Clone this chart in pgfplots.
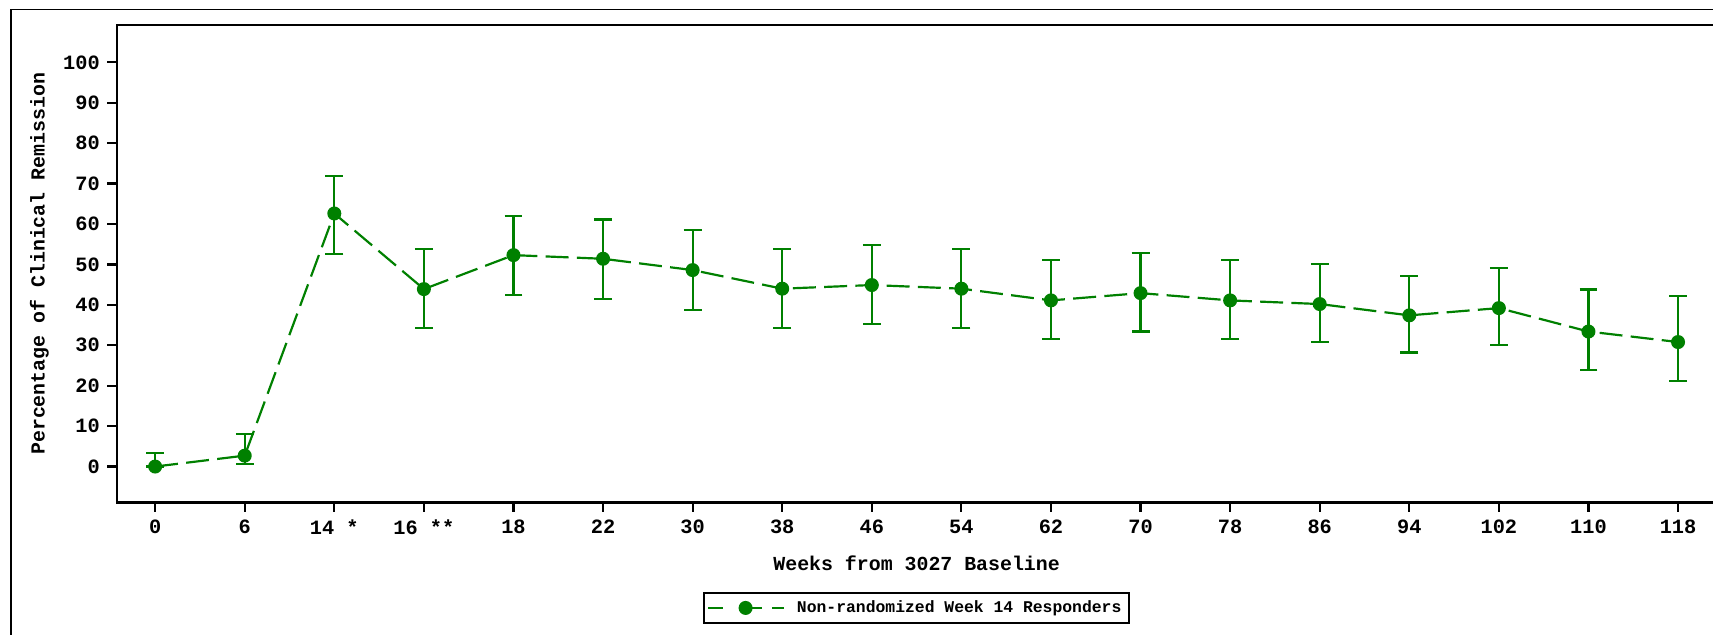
\documentclass[border=0pt]{standalone}
\usepackage{fontspec}
\setmainfont{Liberation Mono}
\usepackage{pgfplots}
\pgfplotsset{compat=1.18}
\usepackage{pgfplotstable}
\definecolor{sasgreen}{RGB}{0,128,0}

% week index, percentage, upper and lower limits
\pgfplotstableread{
idx pct hi lo
0  0.0  3.3  0.0
1  2.7  8.0  0.6
2  62.6 71.8 52.6
3  43.9 53.9 34.3
4  52.3 62.0 42.5
5  51.4 61.1 41.5
6  48.6 58.5 38.7
7  44.0 53.9 34.3
8  44.9 54.8 35.3
9  44.0 53.9 34.3
10 41.1 51.0 31.6
11 42.9 52.9 33.4
12 41.1 51.0 31.6
13 40.2 50.1 30.8
14 37.4 47.2 28.2
15 39.2 49.2 30.0
16 33.4 43.8 23.9
17 30.8 42.1 21.2
}\remission

\begin{document}
\begin{tikzpicture}
\useasboundingbox (0,0) rectangle (784pt,290.5pt);
\clip (0,0) rectangle (784pt,290.5pt);
\draw[line width=0.6pt] (5pt,-5pt) -- (5pt,286pt) -- (800pt,286pt);
\begin{axis}[
    at={(53.5pt,60.5pt)}, anchor=south west,
    scale only axis, width=732pt, height=218.5pt,
    xmin=-0.427, xmax=17.427, ymin=-8.9, ymax=109.2,
    axis line style={line width=1pt},
    xtick={0,...,17},
    xticklabels={0,6,14 *,16 **,18,22,30,38,46,54,62,70,78,86,94,102,110,118},
    ytick={0,10,...,100},
    tick pos=left, tick align=outside,
    tick style={line width=1pt, black}, major tick length=4.3pt,
    ticklabel style={font=\fontsize{9.3}{11}\selectfont\bfseries},
    /pgf/number format/assume math mode=true,
    xlabel={Weeks from 3027 Baseline},
    ylabel={Percentage of Clinical Remission},
    label style={font=\fontsize{9.1}{11}\selectfont\bfseries},
    xlabel style={at={(axis description cs:0.5,-0.128)}, anchor=center},
    ylabel style={at={(axis description cs:-0.0485,0.5)}, anchor=center},
    legend style={at={(axis description cs:0.5,-0.2208)}, anchor=center,
        draw=black, line width=0.8pt, inner sep=1.5pt,
        font=\fontsize{7.5}{9}\selectfont\bfseries},
    legend image code/.code={
        \draw[#1, mark=none, solid] (0pt,0pt) -- (6.75pt,0pt)
            (17pt,0pt) -- (24.5pt,0pt) (29.2pt,0pt) -- (34.5pt,0pt);
        \path[#1, solid] plot coordinates {(17pt,0pt)};
        \path (38pt,0pt);
    },
]
\addplot[sasgreen, line width=1pt, dash pattern=on 10.5pt off 3.8pt,
    mark=*, mark size=2.7pt, mark options={solid, fill=sasgreen},
    error bars/.cd, y dir=both, y explicit,
    error bar style={solid, line width=1pt},
    error mark options={rotate=90, solid, line width=1pt, mark size=4.1pt, sasgreen}]
    table[x=idx, y=pct,
        y error plus expr=\thisrow{hi}-\thisrow{pct},
        y error minus expr=\thisrow{pct}-\thisrow{lo}] {\remission};
\addlegendentry{Non-randomized Week 14 Responders}
\end{axis}
\end{tikzpicture}
\end{document}
